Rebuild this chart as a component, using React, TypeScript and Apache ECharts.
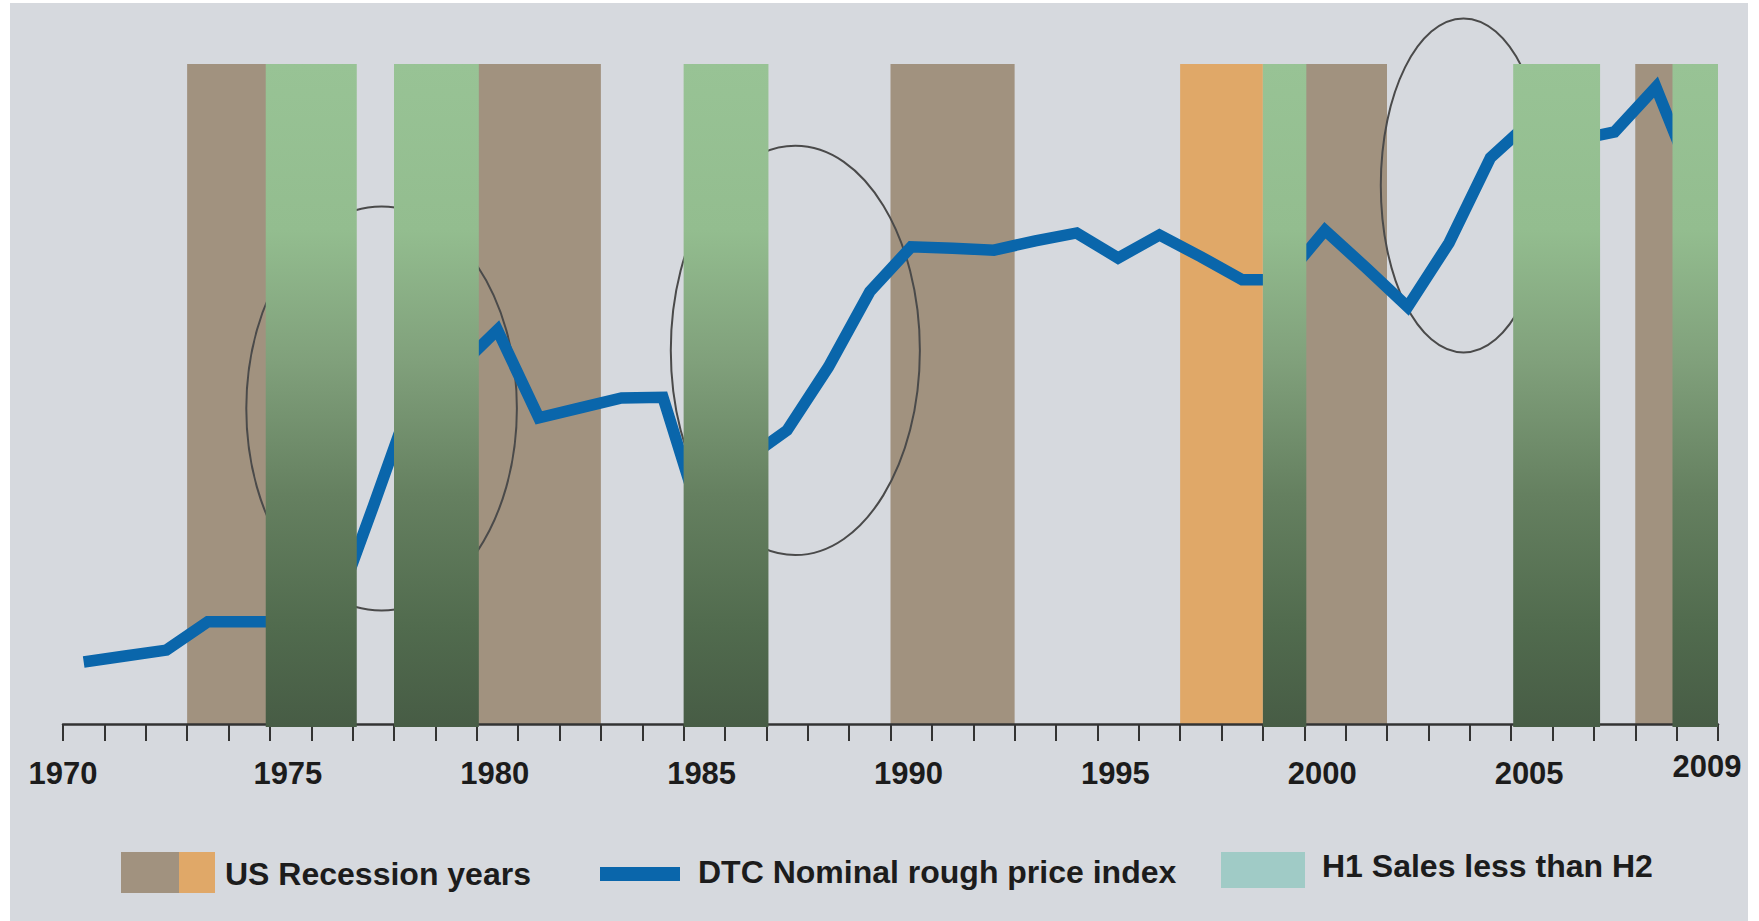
import React, { useEffect, useRef } from 'react';
import * as echarts from 'echarts';

// ---- data ----
const years = [
  1970, 1971, 1972, 1973, 1974, 1975, 1976, 1977, 1978, 1979,
  1980, 1981, 1982, 1983, 1984, 1985, 1986, 1987, 1988, 1989,
  1990, 1991, 1992, 1993, 1994, 1995, 1996, 1997, 1998, 1999,
  2000, 2001, 2002, 2003, 2004, 2005, 2006, 2007, 2008, 2009,
];
// DTC nominal rough price index (relative scale)
const priceIndex = [
  9.4, 10.3, 11.2, 15.5, 15.5, 15.5, 15.8, 33.0, 50.6, 53.6,
  59.7, 46.4, 47.9, 49.4, 49.5, 29.4, 40.0, 44.5, 54.1, 65.5,
  72.3, 72.1, 71.8, 73.2, 74.4, 70.6, 74.1, 70.8, 67.3, 67.3,
  74.8, 69.1, 63.2, 72.9, 85.8, 91.5, 88.4, 89.7, 96.5, 80.9,
];
// US recession years (brown) [start, end]
const recessionSpans = [
  [1973, 1975.5],
  [1980, 1983],
  [1990, 1993],
  [2000, 2002],
  [2008, 2009],
];
// US recession years (orange)
const recessionSpansAlt = [[1997, 1999]];
// H1 sales less than H2 [start, end]
const h1LessThanH2Spans = [
  [1974.9, 1977.1],
  [1978, 1980.05],
  [1985, 1987.05],
  [1999, 2000.05],
  [2005.05, 2007.15],
  [2008.9, 2010],
];
// highlight ellipses [centerYear, centerValue, radiusYears, radiusValue]
const highlightEllipses = [
  [1977.7, 47.8, 3.27, 30.6],
  [1987.7, 56.6, 3.01, 31.0],
  [2003.85, 81.6, 2.0, 25.3],
];
const xTickValues = [1970, 1975, 1980, 1985, 1990, 1995, 2000, 2005, 2010];
const xTickLabels = ['1970', '1975', '1980', '1985', '1990', '1995', '2000', '2005', '2009'];

const legendLabels = ['US Recession years', 'DTC Nominal rough price index', 'H1 Sales less than H2'];

const FONT = '"Liberation Sans", Arial, Helvetica, sans-serif';

export default function App() {
  const ref = useRef<HTMLDivElement>(null);

  useEffect(() => {
    if (!ref.current) return;
    const chart = echarts.init(ref.current, undefined, { renderer: 'svg' });

    const spanRender = (fill: any, extraBottom: number) => (params: any, api: any) => {
      const s = api.value(0);
      const e = api.value(1);
      const p0 = api.coord([s, 100]);
      const p1 = api.coord([e, 0]);
      return {
        type: 'rect',
        shape: { x: p0[0], y: p0[1], width: p1[0] - p0[0], height: p1[1] - p0[1] + extraBottom },
        style: { fill },
      };
    };

    const greenFill = new echarts.graphic.LinearGradient(0, 0, 0, 1, [
      { offset: 0, color: '#98c395' },
      { offset: 0.25, color: '#93bd8f' },
      { offset: 0.45, color: '#80a07b' },
      { offset: 0.65, color: '#658060' },
      { offset: 0.85, color: '#516b4e' },
      { offset: 1, color: '#475c45' },
    ]);

    const rich = {
      f: { fontSize: 31, fontWeight: 'bold', fontFamily: FONT, color: '#1c1c1c', lineHeight: 40 },
      m: { fontSize: 31, fontWeight: 'bold', fontFamily: FONT, color: '#1c1c1c', lineHeight: 40, padding: [0, 0, 0, 36] },
      e: { fontSize: 31, fontWeight: 'bold', fontFamily: FONT, color: '#1c1c1c', lineHeight: 26, padding: [0, 22, 0, 0] },
    };

    const option: any = {
      animation: false,
      backgroundColor: '#ffffff',
      grid: { left: 63, right: 41, top: 64, bottom: 197, containLabel: false, outerBoundsMode: 'none' },
      xAxis: {
        type: 'value',
        min: 1970,
        max: 2010,
        interval: 1,
        z: 3,
        axisLine: { show: true, onZero: false, lineStyle: { color: '#333333', width: 2.5 } },
        axisTick: { show: true, length: 17, lineStyle: { color: '#333333', width: 2 } },
        splitLine: { show: false },
        axisLabel: {
          margin: 29,
          showMinLabel: true,
          showMaxLabel: true,
          formatter: (v: number) => {
            const i = xTickValues.indexOf(v);
            if (i < 0) return '';
            const key = i === 0 ? 'f' : i === xTickValues.length - 1 ? 'e' : 'm';
            return '{' + key + '|' + xTickLabels[i] + '}';
          },
          rich,
        },
      },
      yAxis: { type: 'value', min: 0, max: 100, show: false },
      graphic: [
        { type: 'rect', z: -10, silent: true, shape: { x: 10, y: 3, width: 1738, height: 918 }, style: { fill: '#d6d9de' } },
        // legend
        { type: 'rect', shape: { x: 121, y: 852, width: 58, height: 41 }, style: { fill: '#a1927f' } },
        { type: 'rect', shape: { x: 179, y: 852, width: 36, height: 41 }, style: { fill: '#e0a868' } },
        { type: 'text', x: 225, y: 874, style: { text: legendLabels[0], font: 'bold 32px ' + FONT, fill: '#1c1c1c', verticalAlign: 'middle' } },
        { type: 'rect', shape: { x: 600, y: 867, width: 80, height: 14 }, style: { fill: '#0a66ab' } },
        { type: 'text', x: 698, y: 872, style: { text: legendLabels[1], font: 'bold 32px ' + FONT, fill: '#1c1c1c', verticalAlign: 'middle' } },
        { type: 'rect', shape: { x: 1221, y: 852, width: 84, height: 36 }, style: { fill: '#a0cbc6' } },
        { type: 'text', x: 1322, y: 866, style: { text: legendLabels[2], font: 'bold 32px ' + FONT, fill: '#1c1c1c', verticalAlign: 'middle' } },
      ],
      series: [
        {
          name: 'US Recession years',
          type: 'custom',
          z: 1,
          renderItem: spanRender('#a1927f', 0),
          data: recessionSpans,
          silent: true,
        },
        {
          name: 'US Recession years (alt)',
          type: 'custom',
          z: 1,
          renderItem: spanRender('#e0a868', 0),
          data: recessionSpansAlt,
          silent: true,
        },
        {
          name: 'Highlights',
          type: 'custom',
          z: 2,
          silent: true,
          renderItem: (params: any, api: any) => {
            const c = api.coord([api.value(0), api.value(1)]);
            const rx = api.size([api.value(2), 0])[0];
            const ry = api.size([0, api.value(3)])[1];
            return {
              type: 'ellipse',
              shape: { cx: c[0], cy: c[1], rx, ry },
              style: { fill: 'none', stroke: '#4a4a4a', lineWidth: 2 },
            };
          },
          data: highlightEllipses,
        },
        {
          name: 'DTC Nominal rough price index',
          type: 'line',
          z: 4,
          symbol: 'none',
          lineStyle: { color: '#0a66ab', width: 11.5, join: 'miter', cap: 'butt' },
          data: years.map((y, i) => [y + 0.5, priceIndex[i]]),
        },
        {
          name: 'H1 Sales less than H2',
          type: 'custom',
          z: 5,
          renderItem: spanRender(greenFill, 3),
          data: h1LessThanH2Spans,
          silent: true,
        },
      ],
    };

    chart.setOption(option);
    return () => chart.dispose();
  }, []);

  return (
    <div
      ref={ref}
      style={{ position: 'absolute', left: 0, top: 0, width: 1759, height: 921 }}
    />
  );
}
